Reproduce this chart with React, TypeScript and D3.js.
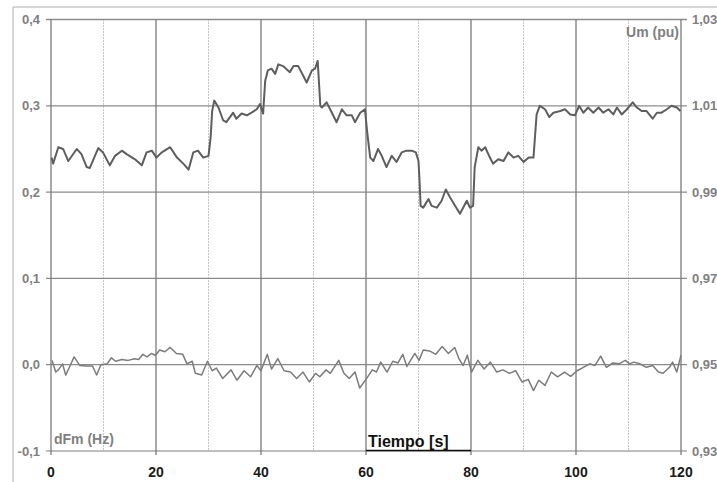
import React from "react";
import * as d3 from "d3";

// Tiempo [s] -> Um (pu), right axis
const umTime = [0.1,0.4,1.4,2.3,3.3,4.9,5.8,6.8,7.4,9.0,9.9,11.2,12.2,13.5,14.4,16.0,17.3,18.2,19.2,20.1,21.1,22.7,24.0,25.2,26.2,27.1,28.0,29.0,30.0,30.4,30.7,31.1,31.9,32.8,33.4,34.7,35.3,36.3,37.3,38.2,39.2,39.8,40.4,40.8,41.3,42.0,42.7,43.3,44.2,45.5,46.2,47.1,48.7,49.7,50.3,50.8,51.3,51.6,52.5,53.5,54.4,55.4,56.3,57.3,57.9,58.9,59.8,60.2,60.8,61.4,62.3,63.0,63.9,64.9,65.8,66.8,67.7,68.7,69.5,70.0,70.2,70.4,70.9,71.9,72.5,73.5,74.4,75.2,76.0,77.0,77.9,79.2,79.8,80.4,80.7,81.4,82.0,82.7,83.6,84.2,85.2,86.2,87.1,88.1,89.0,90.0,91.0,91.9,92.2,92.5,93.1,94.1,94.9,95.7,97.0,97.9,98.9,99.8,100.6,101.4,102.3,103.3,104.3,105.2,106.2,107.1,107.8,108.7,109.7,110.8,111.6,112.5,113.4,114.6,115.4,116.3,117.3,118.2,119.2,119.9];
const umValues = [0.9980,0.9966,1.0004,1.0000,0.9972,1.0000,0.9988,0.9958,0.9956,1.0002,0.9992,0.9962,0.9984,0.9996,0.9988,0.9976,0.9962,0.9992,0.9996,0.9980,0.9992,1.0004,0.9980,0.9966,0.9952,0.9992,0.9996,0.9980,0.9984,1.0026,1.0088,1.0112,1.0096,1.0066,1.0062,1.0084,1.0070,1.0082,1.0078,1.0084,1.0092,1.0104,1.0082,1.0158,1.0182,1.0186,1.0174,1.0196,1.0192,1.0178,1.0192,1.0192,1.0154,1.0182,1.0186,1.0204,1.0100,1.0096,1.0108,1.0084,1.0062,1.0092,1.0078,1.0078,1.0062,1.0084,1.0092,1.0042,0.9980,0.9972,1.0000,0.9984,0.9958,0.9984,0.9970,0.9992,0.9996,0.9996,0.9992,0.9972,0.9926,0.9868,0.9864,0.9884,0.9868,0.9864,0.9880,0.9906,0.9888,0.9868,0.9850,0.9880,0.9864,0.9868,0.9958,1.0004,0.9996,1.0004,0.9980,0.9966,0.9976,0.9972,0.9992,0.9980,0.9984,0.9970,0.9980,0.9980,1.0030,1.0080,1.0100,1.0092,1.0074,1.0084,1.0088,1.0092,1.0080,1.0078,1.0100,1.0084,1.0096,1.0084,1.0096,1.0084,1.0092,1.0080,1.0096,1.0080,1.0092,1.0108,1.0096,1.0088,1.0088,1.0070,1.0084,1.0084,1.0092,1.0100,1.0096,1.0088];

// Tiempo [s] -> dFm (Hz), left axis
const dfTime = [0.2,0.9,1.4,2.2,2.8,3.5,4.4,5.5,6.7,7.9,8.7,9.5,10.7,11.5,12.3,13.5,14.7,15.9,16.7,17.5,18.3,19.1,19.9,20.7,21.7,22.7,23.9,25.1,25.9,26.9,27.5,28.7,29.8,30.7,31.5,32.7,34.3,35.4,36.8,38.0,39.2,40.0,41.2,42.0,43.2,44.4,45.6,46.8,48.0,49.2,50.4,51.2,52.4,53.2,54.8,55.8,56.8,57.9,58.8,60.0,61.2,62.0,62.8,64.0,65.1,66.1,67.0,67.8,69.3,70.1,70.9,72.1,73.3,74.5,75.7,76.9,77.7,78.5,79.3,80.1,81.3,82.5,83.7,84.9,86.1,87.3,88.5,89.7,90.9,91.9,92.9,94.1,95.3,96.5,97.8,99.0,100.2,101.4,102.6,103.6,104.7,105.8,107.0,108.2,109.4,110.2,111.0,112.2,113.4,114.6,115.7,116.6,117.8,118.4,119.2,120.0];
const dfValues = [0.005,-0.0085,-0.006,0.001,-0.012,-0.003,0.009,-0.001,-0.0015,-0.0015,-0.012,0,0.001,0.008,0.004,0.006,0.005,0.007,0.006,0.012,0.009,0.013,0.011,0.017,0.015,0.020,0.013,0.012,0.001,0.004,-0.010,-0.012,0.004,-0.007,-0.004,-0.016,-0.006,-0.018,-0.007,-0.014,-0.001,-0.007,0.012,-0.005,0.007,-0.007,-0.0085,-0.016,-0.0085,-0.020,-0.010,-0.014,-0.006,-0.010,0.005,-0.010,-0.016,-0.0085,-0.027,-0.017,-0.006,-0.0085,0.003,-0.0085,0.004,0.002,0.012,-0.002,0.013,0.005,0.017,0.016,0.012,0.021,0.013,0.020,0.007,-0.001,0.011,-0.0085,0.005,-0.005,0.003,-0.0085,-0.006,-0.010,-0.007,-0.020,-0.017,-0.030,-0.018,-0.024,-0.0085,-0.014,-0.0085,-0.0135,-0.007,-0.003,0.001,-0.001,0.010,-0.003,0.002,0.001,0.005,0.001,0.003,0.001,-0.003,-0.001,-0.0085,-0.010,-0.003,0.003,-0.0085,0.011];

const leftTicks = [-0.1, 0, 0.1, 0.2, 0.3, 0.4];
const leftTickLabels = ["-0,1", "0,0", "0,1", "0,2", "0,3", "0,4"];
const rightTicks = [0.93, 0.95, 0.97, 0.99, 1.01, 1.03];
const rightTickLabels = ["0,93", "0,95", "0,97", "0,99", "1,01", "1,03"];
const majorX = [0, 20, 40, 60, 80, 100, 120];
const minorX = [10, 30, 50, 70, 90, 110];

const W = 717, H = 482;
const FONT = "'Liberation Sans', Arial, sans-serif";

export default function App() {
  const x = d3.scaleLinear().domain([0, 120]).range([51, 681]);
  const yL = d3.scaleLinear().domain([-0.1, 0.4]).range([451, 19.5]);
  const yR = d3.scaleLinear().domain([0.93, 1.03]).range([451, 19.5]);

  const umLine = d3.line<number>().x((_, i) => x(umTime[i])).y((d) => yR(d))(umValues) || "";
  const dfLine = d3.line<number>().x((_, i) => x(dfTime[i])).y((d) => yL(d))(dfValues) || "";

  return (
    <svg width={W} height={H} style={{ position: "absolute", left: 0, top: 0, background: "#fff" }}>
      {/* outer frame */}
      <line x1={13} y1={7} x2={W} y2={7} stroke="#c8c8c8" strokeWidth={1.5} />
      <line x1={13} y1={7} x2={13} y2={H} stroke="#c8c8c8" strokeWidth={1.5} />

      {/* minor vertical grid (dotted) */}
      {minorX.map((t) => (
        <line key={"mn" + t} x1={x(t)} x2={x(t)} y1={yL(0.4)} y2={yL(-0.1)} stroke="#8a8a8a" strokeWidth={1} strokeDasharray="1,2" />
      ))}
      {/* horizontal grid */}
      {leftTicks.map((v) => (
        <line key={"h" + v} x1={x(0) - 5} x2={x(120) + 6} y1={yL(v)} y2={yL(v)} stroke={v === -0.1 ? "#a8a8a8" : "#8c8c8c"} strokeWidth={1.3} />
      ))}
      {/* major vertical grid */}
      {majorX.map((t) => (
        <line key={"mj" + t} x1={x(t)} x2={x(t)} y1={yL(0.4)} y2={yL(-0.1) + 4} stroke="#7a7a7a" strokeWidth={1.3} />
      ))}
      {/* black segment under axis title */}
      <line x1={x(60)} x2={x(80)} y1={yL(-0.1) - 0.5} y2={yL(-0.1) - 0.5} stroke="#111" strokeWidth={1.5} />

      {/* data lines */}
      <path d={dfLine} fill="none" stroke="#7c7c7c" strokeWidth={1.5} strokeLinejoin="round" />
      <path d={umLine} fill="none" stroke="#5e5e5e" strokeWidth={2} strokeLinejoin="round" />

      {/* left axis labels */}
      {leftTicks.map((v, i) => (
        <text key={"lt" + v} x={40} y={yL(v) + 4.5} textAnchor="end" fontFamily={FONT} fontWeight="bold" fontSize={13} fill="#808080">
          {leftTickLabels[i]}
        </text>
      ))}
      {/* right axis labels */}
      {rightTicks.map((v, i) => (
        <text key={"rt" + v} x={692} y={yR(v) + 4.5} fontFamily={FONT} fontWeight="bold" fontSize={13} fill="#808080">
          {rightTickLabels[i]}
        </text>
      ))}
      {/* bottom axis labels */}
      {majorX.map((t) => (
        <text key={"bx" + t} x={x(t)} y={477} textAnchor="middle" fontFamily={FONT} fontWeight="bold" fontSize={14} fill="#1a1a1a">
          {String(t)}
        </text>
      ))}

      <text x={368} y={446.5} fontFamily={FONT} fontWeight="bold" fontSize={16} fill="#111">Tiempo [s]</text>
      <text x={679} y={36.5} textAnchor="end" fontFamily={FONT} fontWeight="bold" fontSize={14} fill="#808080">Um (pu)</text>
      <text x={54} y={444} fontFamily={FONT} fontWeight="bold" fontSize={14} fill="#808080">dFm (Hz)</text>
    </svg>
  );
}
